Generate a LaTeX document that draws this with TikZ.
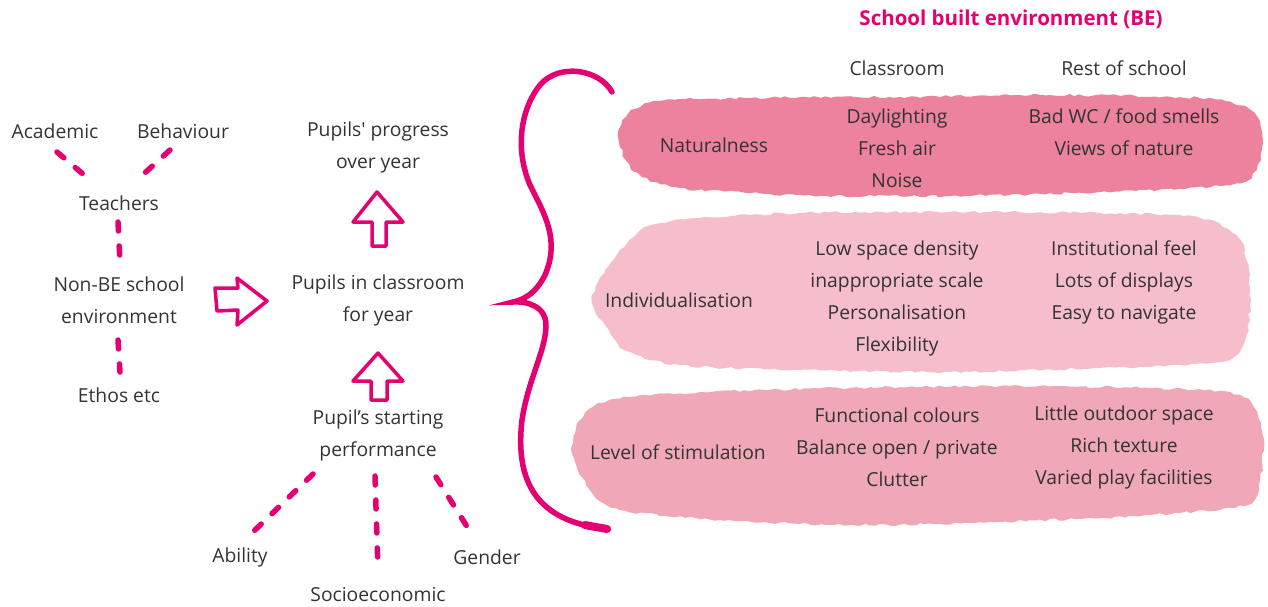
\documentclass[tikz,border=0pt]{standalone}
\usepackage{fontspec}
\setmainfont{Open Sans}
\usetikzlibrary{decorations.pathmorphing}
\definecolor{mag}{RGB}{228,0,112}
\definecolor{txt}{RGB}{51,51,51}
\definecolor{blobA}{RGB}{236,130,155}
\definecolor{blobB}{RGB}{245,190,202}
\definecolor{blobC}{RGB}{240,168,182}
\begin{document}
\begin{tikzpicture}[x=1pt,y=-1pt,
  lbl/.style={text=txt,font=\fontsize{19.3}{32}\selectfont,align=center,inner sep=2pt},
  dashline/.style={draw=mag,line width=5.5pt,line cap=round,dash pattern=on 9pt off 15pt},
  blockarrow/.style={draw=mag,line width=3.5pt,line join=round},
  blob/.style={decorate,decoration={random steps,segment length=5pt,amplitude=1.3pt}}
]
\useasboundingbox (0,0) rectangle (1268,606);
% blobs
\fill[blobA,blob] plot[smooth cycle] coordinates {(619,140) (628,114) (660,101) (750,98) (900,97) (1050,95) (1200,98) (1250,110) (1263,140) (1256,170) (1230,185) (1100,192) (950,196) (800,195) (680,188) (635,172)};
\fill[blobB,blob] plot[smooth cycle] coordinates {(592,300) (605,270) (628,242) (650,226) (700,218) (800,213) (950,212) (1100,213) (1200,218) (1240,240) (1250,290) (1245,340) (1220,362) (1100,368) (950,372) (800,370) (680,365) (625,350) (605,325)};
\fill[blobC,blob] plot[smooth cycle] coordinates {(572,452) (580,420) (610,400) (700,392) (850,388) (1000,386) (1150,388) (1240,395) (1262,430) (1260,480) (1245,505) (1150,515) (1000,522) (850,525) (720,520) (620,510) (590,490)};
% header
\node[font=\fontsize{20.5}{24}\selectfont\bfseries,text=mag] (hdr) at (1011,19) {School built environment (BE)};
\node[lbl] (hcl) at (897,68) {Classroom};
\node[lbl] (hrs) at (1124,68) {Rest of school};
% left texts
\node[lbl] (acad) at (55,131) {Academic};
\node[lbl] (behav) at (183,131) {Behaviour};
\node[lbl] (teach) at (119,203) {Teachers};
\node[lbl] (nonbe) at (119,300) {Non-BE school\\environment};
\node[lbl] (ethos) at (119,395) {Ethos etc};
\node[lbl] (prog) at (378,147) {Pupils\textquotesingle{} progress\\over year};
\node[lbl] (pupils) at (378,300) {Pupils in classroom\\for year};
\node[lbl] (start) at (378,435) {Pupil’s starting\\performance};
\node[lbl] (abil) at (240,557) {Ability};
\node[lbl] (socio) at (378,594) {Socioeconomic};
\node[lbl] (gend) at (487,557) {Gender};
% dashed connectors
\draw[dashline] ([xshift=2pt,yshift=-21pt]acad.center) -- ([xshift=-29pt,yshift=23pt]teach.center);
\draw[dashline] ([xshift=-13pt,yshift=-19pt]behav.center) -- ([xshift=18pt,yshift=23pt]teach.center);
\draw[dashline] ([xshift=-1pt,yshift=-19pt]teach.center) -- ([xshift=1pt,yshift=38pt]nonbe.center);
\draw[dashline] ([xshift=-1pt,yshift=-40pt]nonbe.center) -- ([xshift=1pt,yshift=23pt]ethos.center);
\draw[dashline] ([xshift=-65pt,yshift=-39pt]start.center) -- ([xshift=14pt,yshift=26pt]abil.center);
\draw[dashline] ([xshift=-3pt,yshift=-41pt]start.center) -- ([yshift=24pt]socio.center);
\draw[dashline] ([xshift=58pt,yshift=-42pt]start.center) -- ([xshift=-16pt,yshift=24pt]gend.center);
% block arrows
\draw[blockarrow] (377,192) -- (403,222) -- (386,222) -- (386,246) -- (372,246) -- (372,222) -- (353,222) -- cycle;
\draw[blockarrow] (378,353) -- (403,381) -- (387,381) -- (387,400) -- (371,400) -- (371,381) -- (353,381) -- cycle;
\draw[blockarrow] (267,301) -- (237,278) -- (238,288) -- (215,288) -- (217,311) -- (238,310) -- (237,325) -- cycle;
% brace
\draw[mag,line width=5.5pt,line cap=round] (612,92) .. controls (600,70) and (560,62) .. (540,85) .. controls (520,110) and (515,150) .. (530,185) .. controls (545,215) and (560,240) .. (545,275) .. controls (535,295) and (522,300) .. (513,302) .. controls (525,301) and (547,305) .. (546,327) .. controls (545,352) and (528,380) .. (522,420) .. controls (515,480) and (535,522) .. (608,529);
\draw[mag,line width=8pt,line cap=round] (585,525) .. controls (595,527) and (602,528) .. (607,529);
% blob texts
\node[lbl] (nat) at (714,145) {Naturalness};
\node[lbl] (natc) at (897,148) {Daylighting\\Fresh air\\Noise};
\node[lbl] (natr) at (1124,132) {Bad WC / food smells\\Views of nature};
\node[lbl] (ind) at (679,300) {Individualisation};
\node[lbl] (indc) at (897,298) {Low space density\\inappropriate scale\\Personalisation\\Flexibility};
\node[lbl] (indr) at (1124,282) {Institutional feel\\Lots of displays\\Easy to navigate};
\node[lbl] (lev) at (678,452) {Level of stimulation};
\node[lbl] (levc) at (897,447) {Functional colours\\Balance open / private\\Clutter};
\node[lbl] (levr) at (1124,447) {Little outdoor space\\Rich texture\\Varied play facilities};
\end{tikzpicture}
\end{document}
